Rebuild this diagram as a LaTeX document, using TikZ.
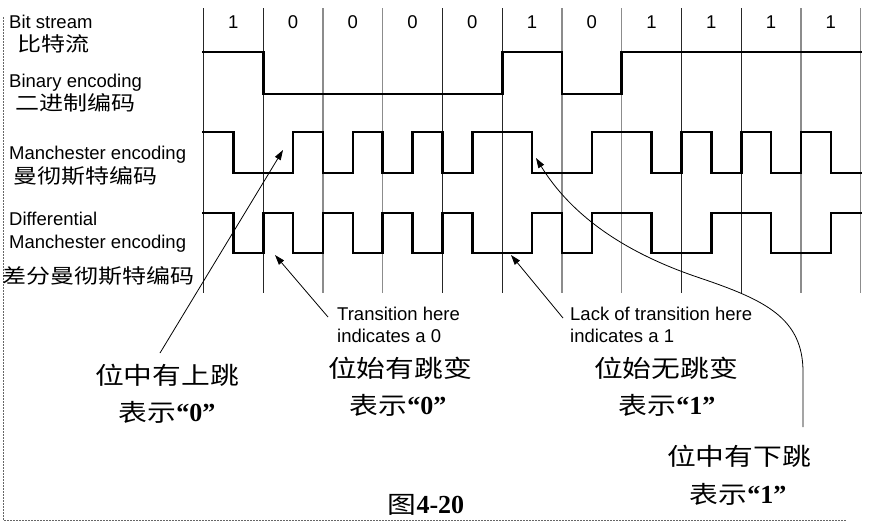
\documentclass[tikz,border=0pt]{standalone}
\usepackage{fontspec}
\setmainfont{Liberation Sans}
\newfontfamily\cjk[FakeStretch=1.2]{Noto Sans CJK SC}
\newfontfamily\tnr{Liberation Serif}
\usetikzlibrary{arrows.meta}
\begin{document}
\begin{tikzpicture}[x=1pt,y=-1pt,
  lbl/.style={anchor=base west,inner sep=0pt,font=\fontsize{18.5}{22}\selectfont},
  clbl/.style={anchor=base west,inner sep=0pt,font=\fontsize{20}{24}\selectfont\cjk},
  bit/.style={anchor=base,inner sep=0pt,font=\fontsize{18.5}{22}\selectfont},
  note/.style={anchor=north west,inner sep=0pt,align=left,font=\fontsize{18.5}{22}\selectfont},
  cnote/.style={inner sep=0pt,font=\fontsize{24}{28}\selectfont\cjk},
  sig/.style={line width=2.6pt,line join=miter,line cap=rect},
  gdark/.style={line width=1.2pt,black!85},
  glight/.style={line width=1.2pt,black!45},
  arr/.style={-{Triangle[length=10pt,width=6.5pt]},line width=0.8pt},
  frame/.style={black!60,line width=0.8pt,dash pattern=on 2pt off 1pt}]
\useasboundingbox (0,0) rectangle (886,523);
\draw[frame] (3,17) -- (3,520) -- (846,520);
% grid
\foreach \i/\s in {0/gdark,1/gdark,2/glight,3/glight,4/gdark,5/gdark,6/glight,7/glight,8/gdark,9/gdark,10/glight,11/glight}{
  \draw[\s] ({203.5+59.75*\i},8) -- ({203.5+59.75*\i},293);
}
% bits
\foreach \b [count=\k from 0] in {1,0,0,0,0,1,0,1,1,1,1}{
  \node[bit] (bit\k) at ({203.5+59.75*(\k+0.5)},28) {\b};
}
% labels
\node[lbl] (l1) at (9,28) {Bit stream};
\node[clbl] (c1) at (17,51) {比特流};
\node[lbl] (l2) at (9,87) {Binary encoding};
\node[clbl] (c2) at (15,110) {二进制编码};
\node[lbl] (l3) at (9,159) {Manchester encoding};
\node[clbl] (c3) at (13,183) {曼彻斯特编码};
\node[lbl] (l4) at (9,225) {Differential};
\node[lbl] (l5) at (9,248) {Manchester encoding};
\node[clbl] (c4) at (2,283) {差分曼彻斯特编码};
% waveforms
\begin{scope}[x=59.75pt,shift={(203.5pt,0pt)}]
\draw[sig] (0,52) -- (1,52) -- (1,94) -- (5,94) -- (5,52) -- (6,52) -- (6,94) -- (7,94) -- (7,52) -- (11,52);
\draw[sig] (0,132) -- (0.5,132) -- (0.5,173) -- (1.5,173) -- (1.5,132) -- (2,132) -- (2,173) -- (2.5,173) -- (2.5,132) -- (3,132) -- (3,173) -- (3.5,173) -- (3.5,132) -- (4,132) -- (4,173) -- (4.5,173) -- (4.5,132) -- (5.5,132) -- (5.5,173) -- (6.5,173) -- (6.5,132) -- (7.5,132) -- (7.5,173) -- (8,173) -- (8,132) -- (8.5,132) -- (8.5,173) -- (9,173) -- (9,132) -- (9.5,132) -- (9.5,173) -- (10,173) -- (10,132) -- (10.5,132) -- (10.5,173) -- (11,173);
\draw[sig] (0,213) -- (0.5,213) -- (0.5,253) -- (1,253) -- (1,213) -- (1.5,213) -- (1.5,253) -- (2,253) -- (2,213) -- (2.5,213) -- (2.5,253) -- (3,253) -- (3,213) -- (3.5,213) -- (3.5,253) -- (4,253) -- (4,213) -- (4.5,213) -- (4.5,253) -- (5.5,253) -- (5.5,213) -- (6,213) -- (6,253) -- (6.5,253) -- (6.5,213) -- (7.5,213) -- (7.5,253) -- (8.5,253) -- (8.5,213) -- (9.5,213) -- (9.5,253) -- (10.5,253) -- (10.5,213) -- (11,213);
\end{scope}
% notes
\node[note] (tr) at (337,306.5) {Transition here\\indicates a 0};
\node[note] (lk) at (570,306.5) {Lack of transition here\\indicates a 1};
\node[cnote] (n1) at (167,375) {位中有上跳};
\node[cnote] (n1b) at (167,412) {表示{\tnr\bfseries\fontsize{26}{28}\selectfont “0”}};
\node[cnote] (n2) at (400,368) {位始有跳变};
\node[cnote] (n2b) at (398,405) {表示{\tnr\bfseries\fontsize{26}{28}\selectfont “0”}};
\node[cnote] (n3) at (666,368) {位始无跳变};
\node[cnote] (n3b) at (667,405) {表示{\tnr\bfseries\fontsize{26}{28}\selectfont “1”}};
\node[cnote] (n4) at (739,456) {位中有下跳};
\node[cnote] (n4b) at (738,494) {表示{\tnr\bfseries\fontsize{26}{28}\selectfont “1”}};
\node[inner sep=0pt,anchor=base] (fig) at (426,513) {{\cjk\fontsize{24}{28}\selectfont 图}{\tnr\bfseries\fontsize{26}{28}\selectfont 4-20}};
% arrows
\coordinate (tipA) at (283,150);
\coordinate (tailA) at (160,353);
\coordinate (tipB) at (275,255);
\coordinate (tailB) at (328,317);
\coordinate (tipC) at (511,255);
\coordinate (tailC) at (563,318);
\coordinate (tipD) at (536,158);
\coordinate (tailD) at (803,427);
\draw[arr] (tailA) -- (tipA);
\draw[arr] (tailB) -- (tipB);
\draw[arr] (tailC) -- (tipC);
\draw[arr] (tailD) -- (803,372) .. controls (803,318) and (765,300) .. (700,278) .. controls (610,248) and (565,205) .. (tipD);
\end{tikzpicture}
\end{document}
